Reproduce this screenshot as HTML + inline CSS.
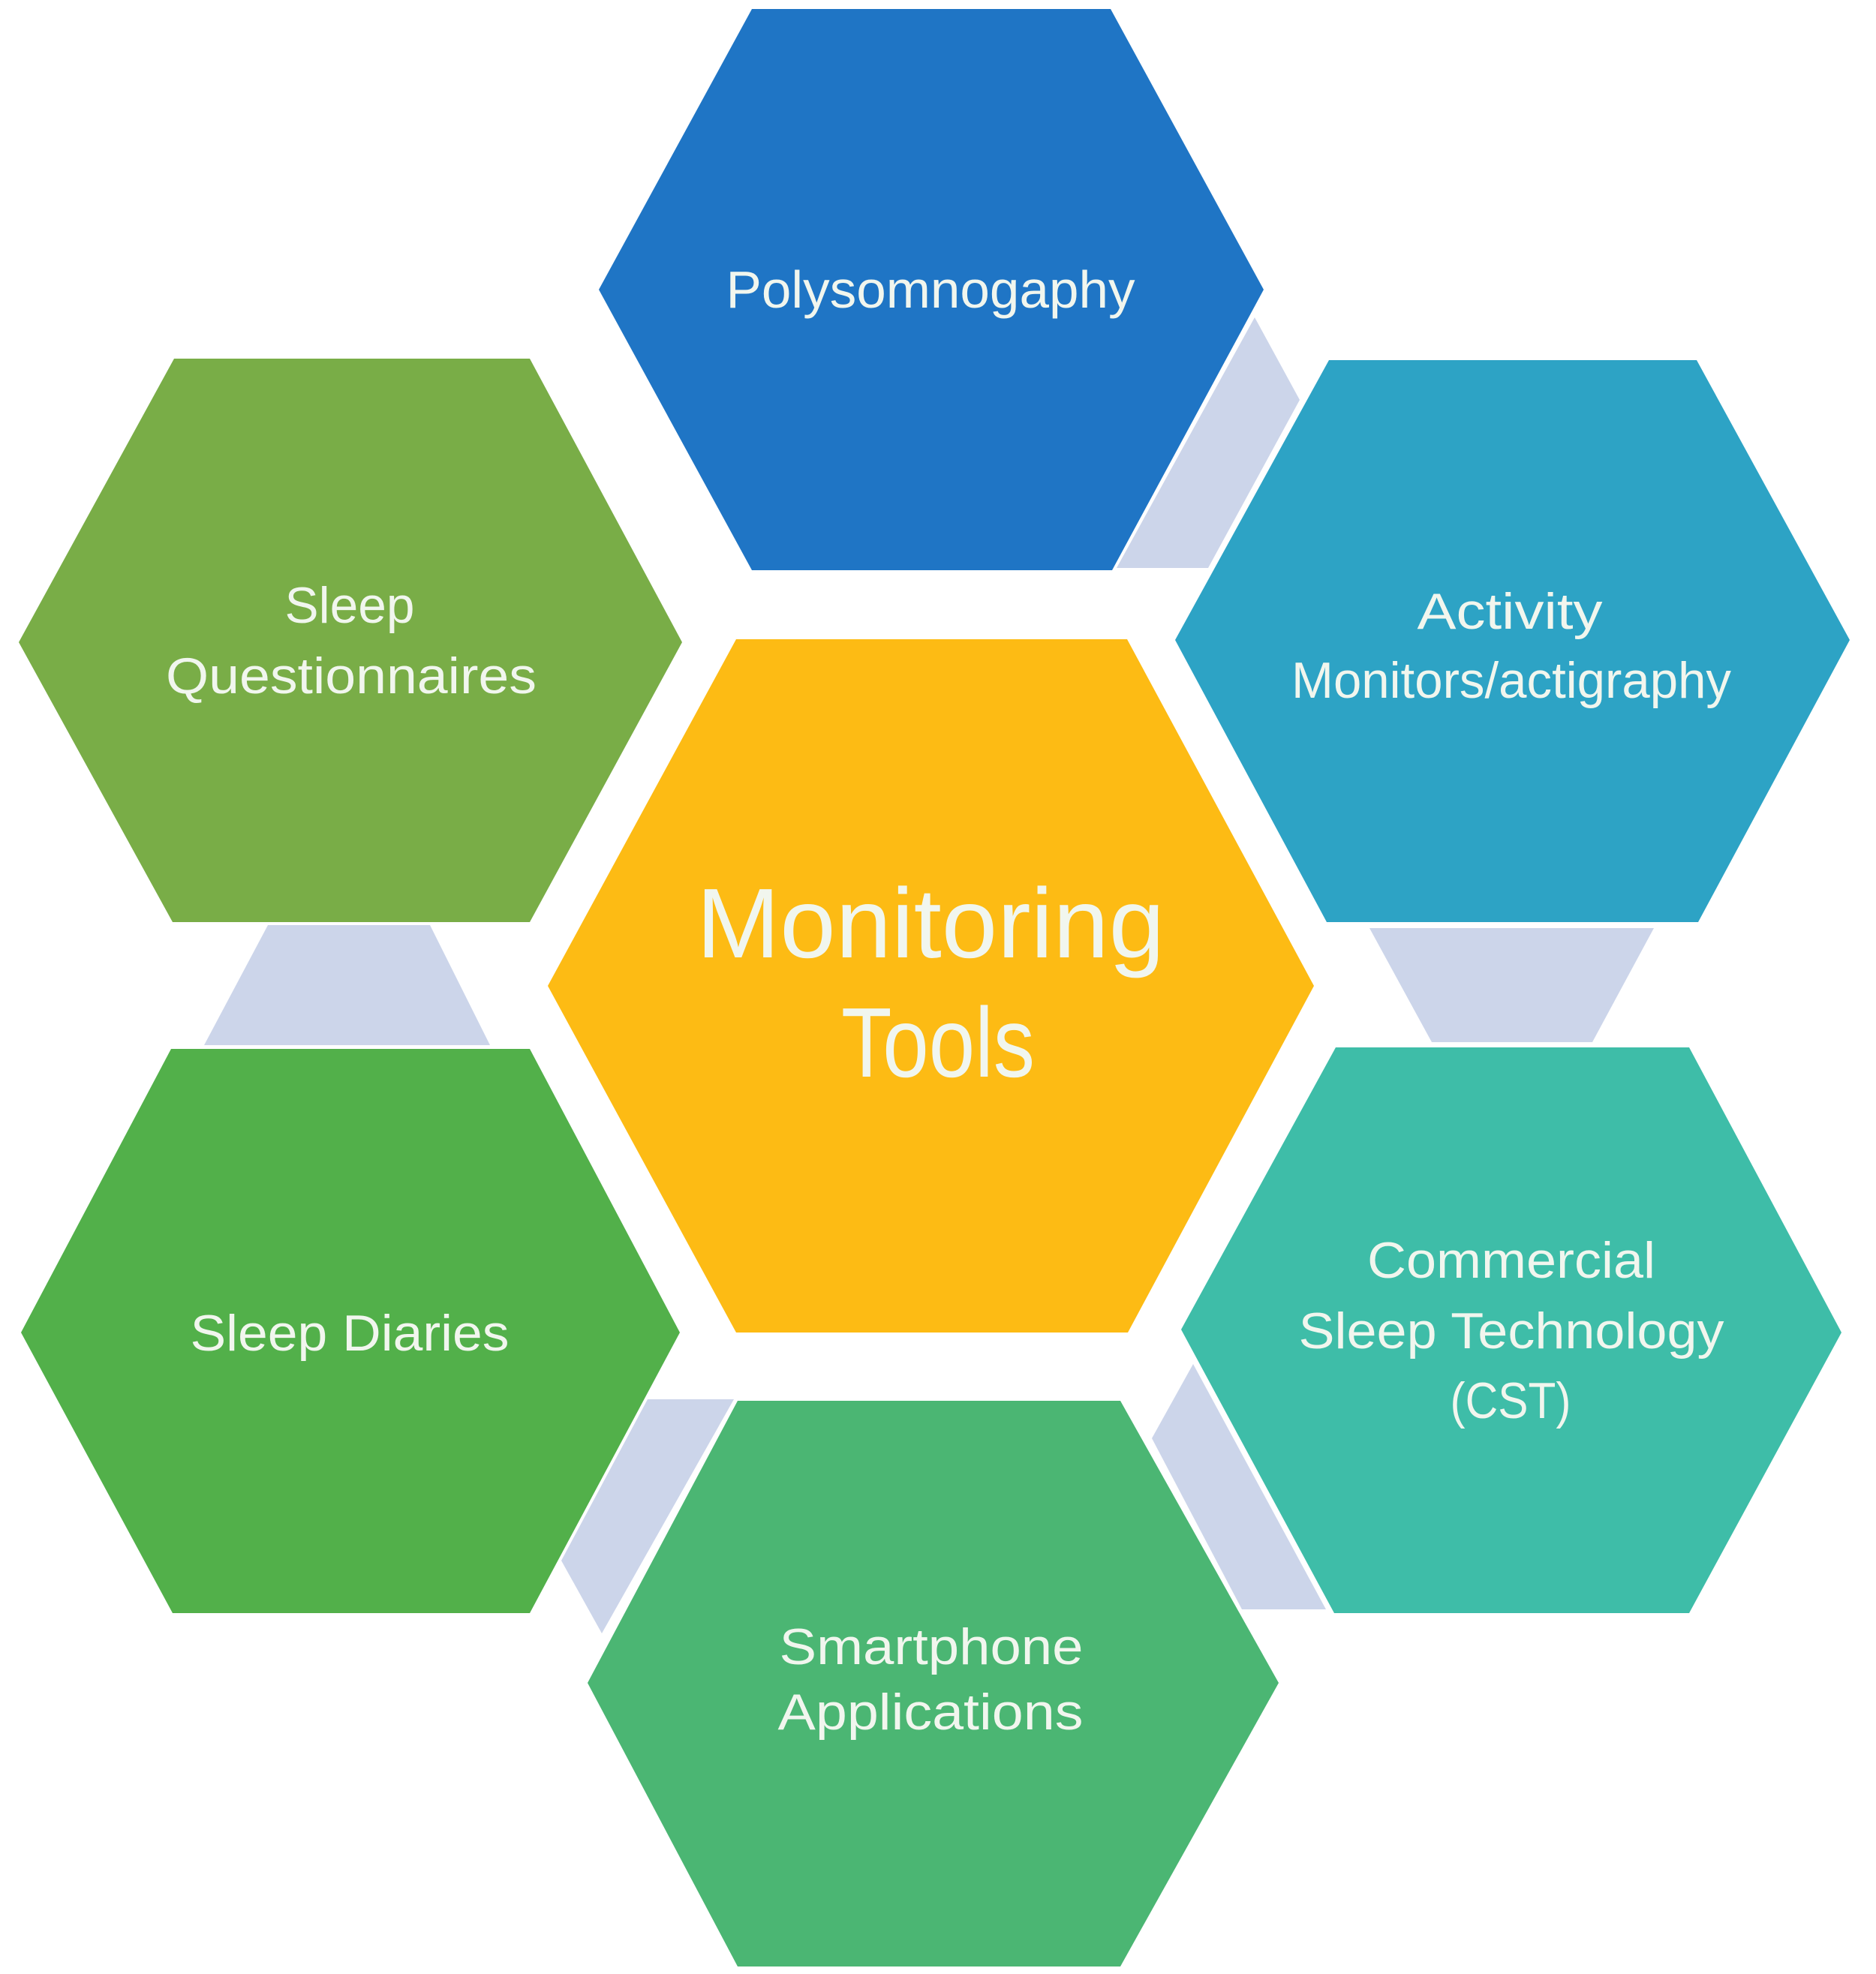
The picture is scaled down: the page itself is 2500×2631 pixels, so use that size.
<!DOCTYPE html>
<html>
<head>
<meta charset="utf-8">
<style>
  html,body{margin:0;padding:0;background:#ffffff;}
  svg{display:block;}
  text{font-family:"Liberation Sans", Arial, sans-serif; fill:#f1f6ee;}
</style>
</head>
<body>
<svg width="2500" height="2631" viewBox="0 0 2500 2631" xmlns="http://www.w3.org/2000/svg">
  <rect width="2500" height="2631" fill="#ffffff"/>

  <!-- connectors -->
  <g fill="#ccd5ea">
    <polygon points="1672,423 1732,533 1610,757 1488,757"/>
    <polygon points="1825,1237 2204,1237 2122,1389 1908,1389"/>
    <polygon points="357,1233 573,1233 653,1393 272,1393"/>
    <polygon points="863,1865 978,1865 802,2177 748,2080"/>
    <polygon points="1590,1818 1767,2145 1655,2145 1535,1917"/>
  </g>

  <!-- hexagons -->
  <polygon fill="#1f75c5" points="1002,12 1480,12 1684,386 1482,760 1002,760 798,386"/>
  <polygon fill="#2da3c5" points="1771,480 2261,480 2465,853 2263,1229 1768,1229 1566,853"/>
  <polygon fill="#79ad47" points="232,478 706,478 909,856 706,1229 230,1229 25,856"/>
  <polygon fill="#fdbb14" points="981,852 1502,852 1751,1314 1503,1776 981,1776 730,1314"/>
  <polygon fill="#52b04a" points="228,1398 706,1398 906,1776 706,2150 230,2150 28,1776"/>
  <polygon fill="#3ebda8" points="1780,1396 2251,1396 2454,1776 2251,2150 1778,2150 1574,1772"/>
  <polygon fill="#4bb673" points="983,1867 1493,1867 1704,2243 1493,2621 983,2621 783,2243"/>

  <!-- labels -->
  <text x="1240" y="410" font-size="70" text-anchor="middle" textLength="545" lengthAdjust="spacingAndGlyphs">Polysomnogaphy</text>

  <text x="466" y="830" font-size="68" text-anchor="middle" textLength="173" lengthAdjust="spacingAndGlyphs">Sleep</text>
  <text x="468" y="924" font-size="68" text-anchor="middle" textLength="494" lengthAdjust="spacingAndGlyphs">Questionnaires</text>

  <text x="2012" y="838" font-size="68" text-anchor="middle" textLength="247" lengthAdjust="spacingAndGlyphs">Activity</text>
  <text x="2014" y="930" font-size="68" text-anchor="middle" textLength="586" lengthAdjust="spacingAndGlyphs">Monitors/actigraphy</text>

  <text x="1240" y="1276" font-size="132" text-anchor="middle" textLength="624" lengthAdjust="spacingAndGlyphs">Monitoring</text>
  <text x="1250" y="1435" font-size="132" text-anchor="middle" textLength="258" lengthAdjust="spacingAndGlyphs">Tools</text>

  <text x="466" y="1800" font-size="68" text-anchor="middle" textLength="425" lengthAdjust="spacingAndGlyphs">Sleep Diaries</text>

  <text x="2014" y="1703" font-size="68" text-anchor="middle" textLength="384" lengthAdjust="spacingAndGlyphs">Commercial</text>
  <text x="2014" y="1797" font-size="68" text-anchor="middle" textLength="567" lengthAdjust="spacingAndGlyphs">Sleep Technology</text>
  <text x="2013" y="1890" font-size="68" text-anchor="middle" textLength="161" lengthAdjust="spacingAndGlyphs">(CST)</text>

  <text x="1241" y="2218" font-size="68" text-anchor="middle" textLength="405" lengthAdjust="spacingAndGlyphs">Smartphone</text>
  <text x="1240" y="2305" font-size="68" text-anchor="middle" textLength="407" lengthAdjust="spacingAndGlyphs">Applications</text>
</svg>
</body>
</html>
